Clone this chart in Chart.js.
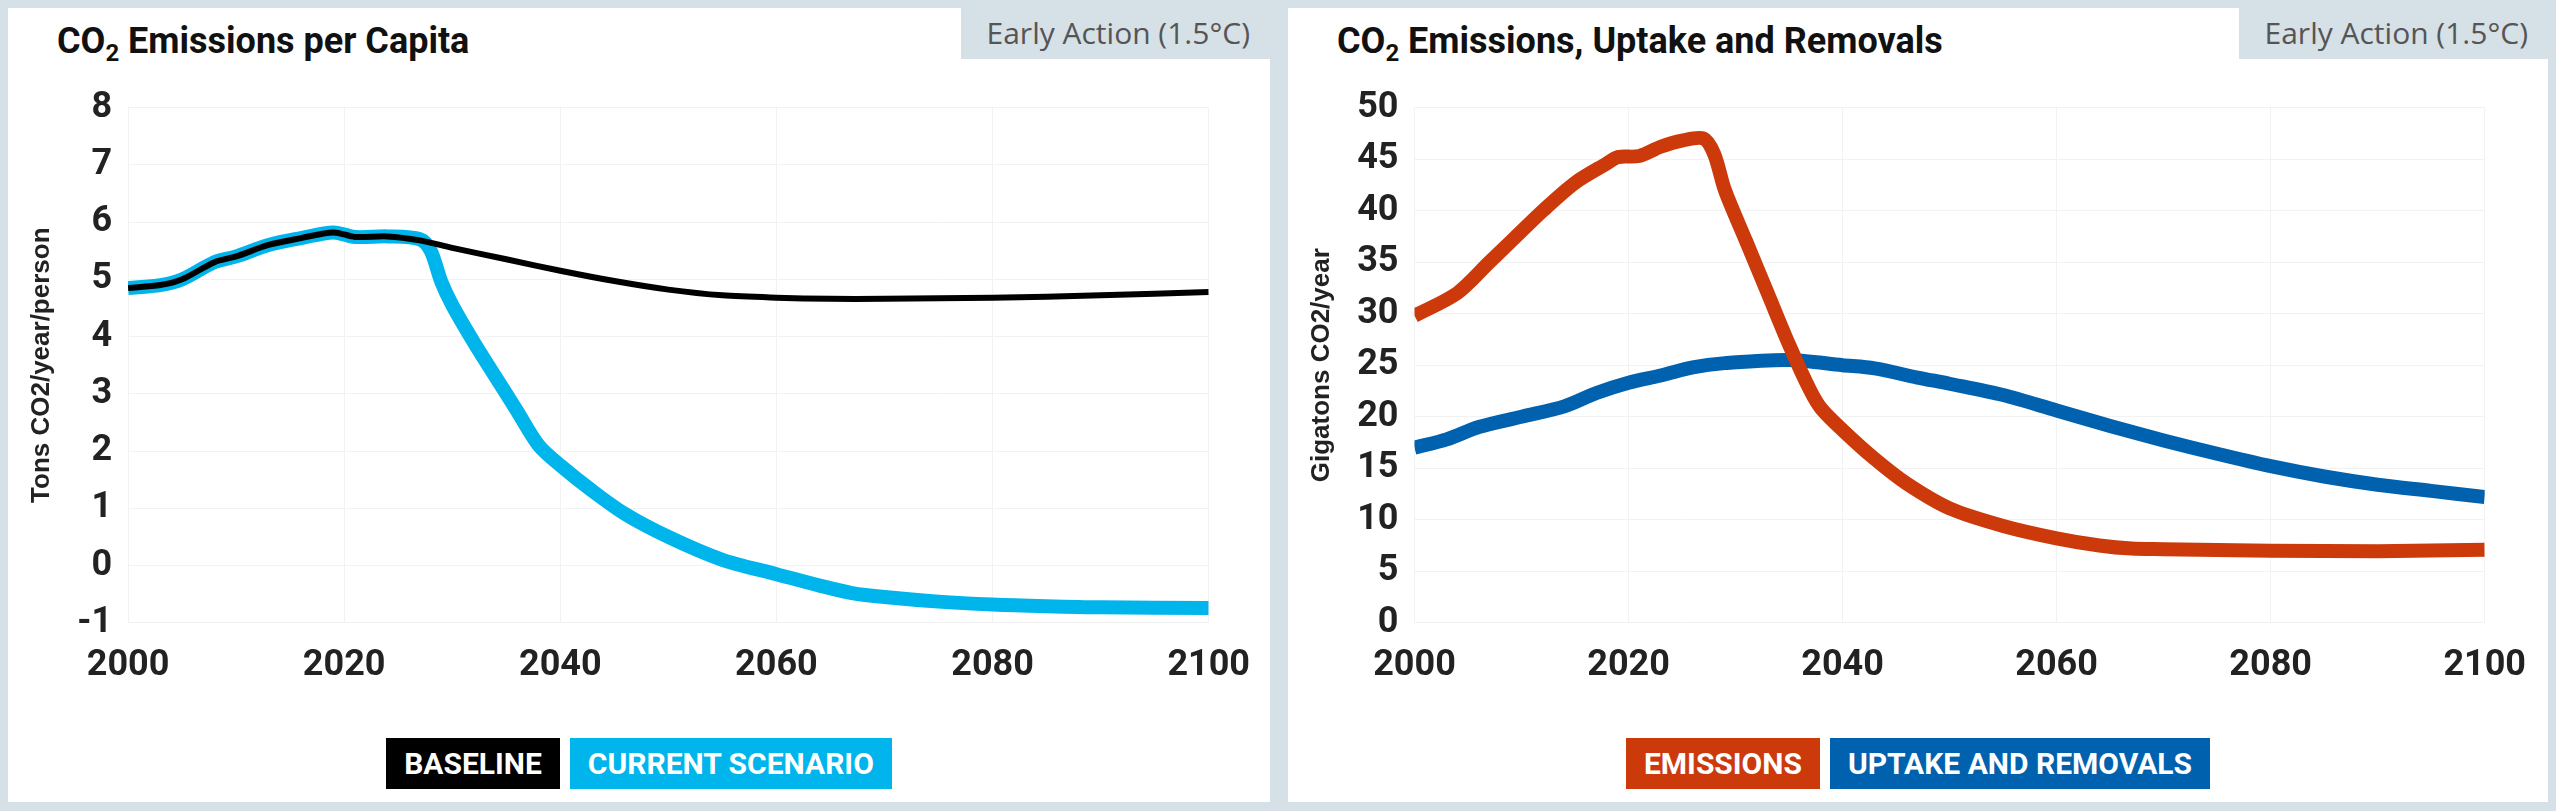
<!DOCTYPE html>
<html>
<head>
<meta charset="utf-8">
<script src="https://cdn.jsdelivr.net/npm/chart.js@4"></script>
<style>
  body { margin: 0; width: 2556px; height: 811px; background: #d5e0e7; position: relative; overflow: hidden;
         font-family: "Liberation Sans Narrow", "Roboto", sans-serif; }
  .panel { position: absolute; top: 8px; height: 794px; background: #fff; }
  .title { position: absolute; left: 49px; top: 12px; font-size: 36px; font-weight: bold; color: #111; }
  .title sub { font-size: 24px; }
  .badge { position: absolute; right: 0; top: 0; background: #d5e0e7; color: #555; font-family: "Open Sans", sans-serif;
           font-size: 30px; padding: 4px 20px 6px 26px; }
  canvas { position: absolute; left: 14px; top: 62px; }
  .legend { position: absolute; top: 730px; left: 0; right: 0; text-align: center; font-size: 30px; font-weight: bold; color: #fff; }
  .legend span { display: inline-block; padding: 8px 18px; margin: 0 5px; }
</style>
</head>
<body>
<div class="panel" style="left:8px;width:1262px">
  <div class="title">CO<sub>2</sub> Emissions per Capita</div>
  <div class="badge">Early Action (1.5°C)</div>
  <canvas id="left" width="1250" height="640"></canvas>
  <div class="legend"><span style="background:#000">BASELINE</span><span style="background:#00b5ec">CURRENT SCENARIO</span></div>
</div>
<div class="panel" style="left:1288px;width:1260px">
  <div class="title">CO<sub>2</sub> Emissions, Uptake and Removals</div>
  <div class="badge">Early Action (1.5°C)</div>
  <canvas id="right" width="1246" height="640"></canvas>
  <div class="legend"><span style="background:#cc3a0b">EMISSIONS</span><span style="background:#0062ae">UPTAKE AND REMOVALS</span></div>
</div>
<script>
'use strict';

var baselineYears = [2000, 2003, 2005, 2008, 2010, 2013, 2016, 2019, 2021, 2024, 2027, 2030, 2035, 2040, 2045, 2050, 2055, 2060, 2065, 2070, 2080, 2090, 2100];
var baselineValues = [4.85, 4.9, 5.0, 5.3, 5.4, 5.6, 5.72, 5.82, 5.74, 5.75, 5.68, 5.55, 5.35, 5.15, 4.97, 4.82, 4.72, 4.68, 4.66, 4.66, 4.68, 4.72, 4.78];

var currentYears = [2000, 2003, 2005, 2008, 2010, 2013, 2016, 2019, 2021, 2024, 2027, 2028, 2029, 2030, 2032, 2034, 2036, 2038, 2040, 2043, 2046, 2050, 2055, 2060, 2064, 2067, 2070, 2075, 2080, 2085, 2090, 2100];
var currentValues = [4.85, 4.9, 5.0, 5.3, 5.4, 5.6, 5.72, 5.82, 5.74, 5.75, 5.7, 5.5, 4.95, 4.55, 3.9, 3.3, 2.7, 2.1, 1.75, 1.3, 0.9, 0.5, 0.1, -0.15, -0.35, -0.48, -0.55, -0.63, -0.68, -0.71, -0.73, -0.74];

var emissionsYears = [2000, 2004, 2007, 2009, 2012, 2015, 2018, 2019, 2021, 2023, 2025, 2027, 2028, 2029, 2031, 2033, 2035, 2037, 2038, 2040, 2043, 2046, 2050, 2055, 2060, 2064, 2067, 2070, 2080, 2090, 2100];
var emissionsValues = [29.8, 32, 35, 37, 40, 42.7, 44.6, 45.2, 45.3, 46.2, 46.8, 47, 45.5, 42, 37, 32, 27, 22.5, 20.8, 18.7, 15.9, 13.5, 11.1, 9.4, 8.2, 7.5, 7.2, 7.15, 7.0, 6.95, 7.1];

var uptakeYears = [2000, 2003, 2006, 2010, 2014, 2017, 2020, 2023, 2026, 2029, 2035, 2040, 2043, 2047, 2050, 2055, 2060, 2065, 2070, 2075, 2080, 2085, 2090, 2095, 2100];
var uptakeValues = [17, 17.8, 19, 20, 21, 22.3, 23.3, 24, 24.8, 25.2, 25.5, 25.0, 24.7, 23.8, 23.2, 22.1, 20.6, 19.1, 17.7, 16.4, 15.2, 14.2, 13.4, 12.8, 12.2];

var xTicks = [2000, 2020, 2040, 2060, 2080, 2100];

function points(xs, ys) {
  var out = [];
  for (var i = 0; i < xs.length; i++) out.push({ x: xs[i], y: ys[i] });
  return out;
}

var tickFont = { family: '"Liberation Sans Narrow", Roboto, sans-serif', size: 36, weight: 'bold' };

function makeChart(id, datasets, yMin, yMax, yStep, yTitle) {
  return new Chart(document.getElementById(id), {
    type: 'line',
    data: { datasets: datasets },
    options: {
      responsive: false,
      animation: false,
      layout: { padding: { right: 36, top: 14 } },
      plugins: { legend: { display: false }, tooltip: { enabled: false } },
      elements: { point: { radius: 0 }, line: { tension: 0.3, borderCapStyle: 'butt' } },
      scales: {
        x: {
          type: 'linear', min: 2000, max: 2100,
          afterBuildTicks: function (axis) { axis.ticks = xTicks.map(function (v) { return { value: v }; }); },
          ticks: { color: '#222', font: tickFont, padding: 22, callback: function (v) { return String(v); } },
          grid: { color: '#f2f2f2', drawTicks: false },
          border: { display: false }
        },
        y: {
          min: yMin, max: yMax,
          ticks: { stepSize: yStep, color: '#222', font: tickFont, padding: 16 },
          grid: { color: '#f2f2f2', drawTicks: false },
          border: { display: false },
          title: { display: true, text: yTitle, color: '#222', font: { family: 'Arial, "Liberation Sans", sans-serif', size: 26, weight: 'bold' } }
        }
      }
    }
  });
}

makeChart('left', [
  { data: points(baselineYears, baselineValues), borderColor: '#000', borderWidth: 6 },
  { data: points(currentYears, currentValues), borderColor: '#00b5ec', borderWidth: 14 }
], -1, 8, 1, 'Tons CO2/year/person');

makeChart('right', [
  { data: points(emissionsYears, emissionsValues), borderColor: '#cc3a0b', borderWidth: 14 },
  { data: points(uptakeYears, uptakeValues), borderColor: '#0062ae', borderWidth: 14 }
], 0, 50, 5, 'Gigatons CO2/year');
</script>
</body>
</html>
